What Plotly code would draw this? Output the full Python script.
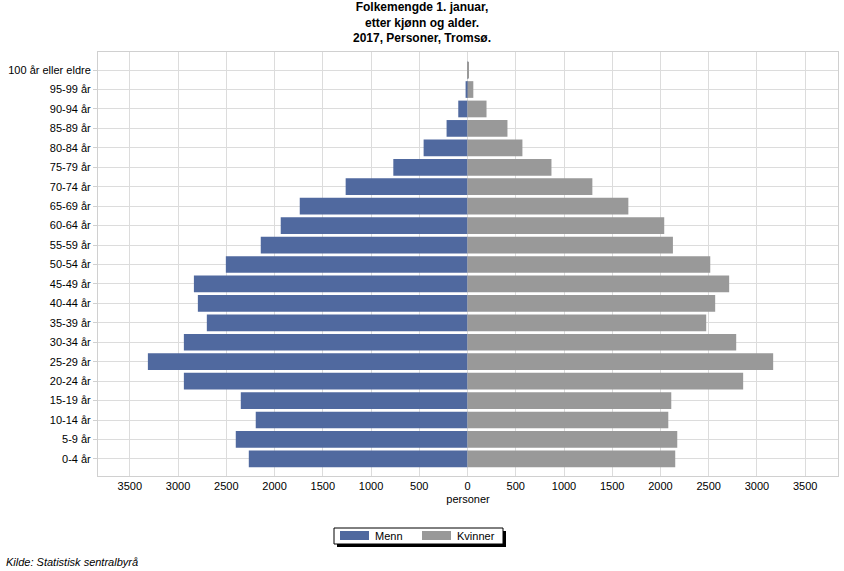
import plotly.graph_objects as go

age_groups = ["0-4 år", "5-9 år", "10-14 år", "15-19 år", "20-24 år", "25-29 år",
              "30-34 år", "35-39 år", "40-44 år", "45-49 år", "50-54 år", "55-59 år",
              "60-64 år", "65-69 år", "70-74 år", "75-79 år", "80-84 år", "85-89 år",
              "90-94 år", "95-99 år", "100 år eller eldre"]
menn = [2267, 2402, 2195, 2350, 2940, 3313, 2940, 2702, 2795, 2836, 2505, 2143,
        1936, 1739, 1263, 769, 455, 217, 96, 20, 3]
kvinner = [2153, 2174, 2081, 2112, 2857, 3168, 2785, 2474, 2567, 2712, 2516, 2129,
           2039, 1667, 1294, 870, 569, 414, 197, 60, 8]
tick_vals = [-3500, -3000, -2500, -2000, -1500, -1000, -500, 0,
             500, 1000, 1500, 2000, 2500, 3000, 3500]
tick_text = [str(abs(v)) for v in tick_vals]
series_names = ["Menn", "Kvinner"]

FONT = "Liberation Sans, Arial, sans-serif"
BLUE = "#50699f"
GRAY = "#999999"

W, H = 844, 571
L, R, T, B = 98, 838, 52, 476


def px(x):
    return (x - L) / (R - L)


def py(y):
    return (B - y) / (B - T)


fig = go.Figure()
fig.add_trace(go.Bar(
    y=age_groups, x=[-v for v in menn], customdata=menn, orientation="h",
    name=series_names[0], marker=dict(color=BLUE, line=dict(width=0)),
    showlegend=False,
    hovertemplate="%{y}: %{customdata}<extra>Menn</extra>"))
fig.add_trace(go.Bar(
    y=age_groups, x=kvinner, orientation="h",
    name=series_names[1], marker=dict(color=GRAY, line=dict(width=0)),
    showlegend=False,
    hovertemplate="%{y}: %{x}<extra>Kvinner</extra>"))

# custom legend (box with drop shadow, wide swatches)
shapes = [
    dict(type="rect", xref="paper", yref="paper", x0=px(337), x1=px(506),
         y0=py(547), y1=py(531), fillcolor="#000000", line=dict(width=0), layer="above"),
    dict(type="rect", xref="paper", yref="paper", x0=px(334), x1=px(503),
         y0=py(544), y1=py(528), fillcolor="#ffffff",
         line=dict(color="#000000", width=1), layer="above"),
    dict(type="rect", xref="paper", yref="paper", x0=px(340), x1=px(369),
         y0=py(540), y1=py(531), fillcolor=BLUE, line=dict(width=0), layer="above"),
    dict(type="rect", xref="paper", yref="paper", x0=px(422), x1=px(451),
         y0=py(540), y1=py(531), fillcolor=GRAY, line=dict(width=0), layer="above"),
]
annotations = [
    dict(text=series_names[0], xref="paper", yref="paper", x=px(373), y=py(536),
         xanchor="left", yanchor="middle", showarrow=False, font=dict(size=11)),
    dict(text=series_names[1], xref="paper", yref="paper", x=px(455), y=py(536),
         xanchor="left", yanchor="middle", showarrow=False, font=dict(size=11)),
    dict(text="<i>Kilde: Statistisk sentralbyrå</i>", xref="paper", yref="paper",
         x=px(4), y=py(562), xanchor="left", yanchor="middle",
         showarrow=False, font=dict(size=11)),
]

fig.update_layout(
    width=W, height=H,
    margin=dict(l=L, r=W - R, t=T, b=H - B),
    paper_bgcolor="white", plot_bgcolor="white",
    barmode="overlay", bargap=0.14,
    font=dict(family=FONT, size=11, color="#000000"),
    title=dict(
        text="Folkemengde 1. januar,<br>etter kjønn og alder.<br>2017, Personer, Tromsø.",
        x=0.5, xanchor="center", xref="container",
        y=1 - 11 / H, yanchor="top",
        font=dict(family=FONT, size=12, color="#000000", weight="bold")),
    xaxis=dict(
        range=[-3830, 3840], tickvals=tick_vals, ticktext=tick_text,
        showgrid=True, gridcolor="#dcdcdc", gridwidth=1,
        zeroline=False, showline=True, linecolor="#d0d0d0", mirror=True,
        ticks="", tickfont=dict(size=11),
        title=dict(text="personer", font=dict(size=11), standoff=4)),
    yaxis=dict(
        type="category", categoryorder="array", categoryarray=age_groups,
        range=[-0.88, 20.93],
        showgrid=True, gridcolor="#dcdcdc", gridwidth=1,
        zeroline=False, showline=True, linecolor="#d0d0d0", mirror=True,
        ticks="outside", ticklen=4, tickcolor="#d0d0d0",
        tickfont=dict(size=11)),
    showlegend=False,
    shapes=shapes,
    annotations=annotations,
)

fig.write_html("out.html", config={"displayModeBar": False},
               post_script="document.body.style.margin='0';")
